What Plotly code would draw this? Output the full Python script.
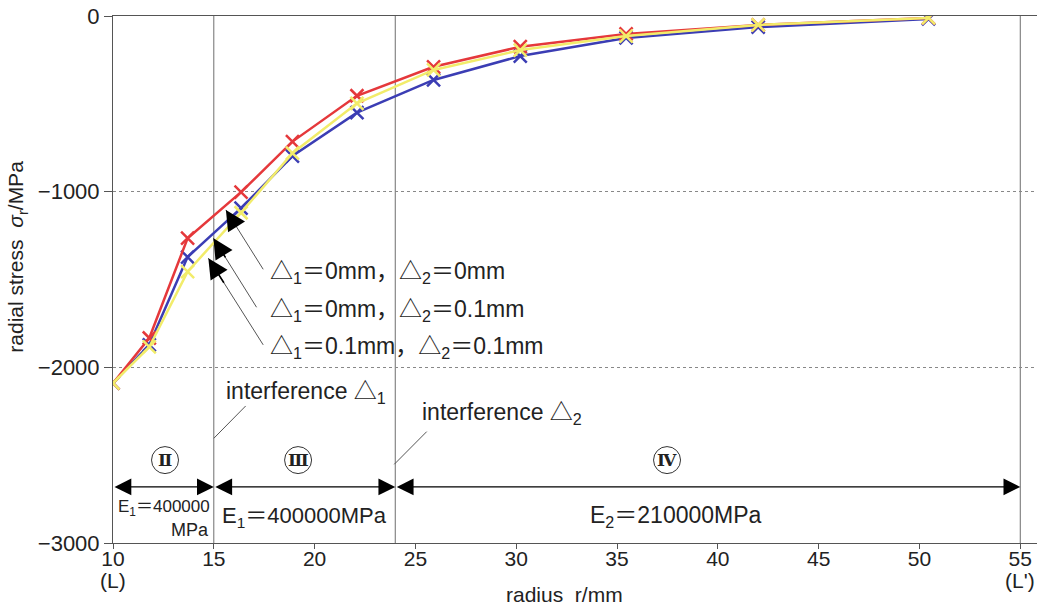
import plotly.graph_objects as go

# radius positions (mm) of the computed points
radius = [10.0, 11.8, 13.7, 16.35, 18.9, 22.1, 25.9, 30.2, 35.45, 42.0, 50.45]

# radial stress (MPa) for the three interference cases
stress_00 = [-2090, -1833, -1265, -1003, -715, -454, -289, -175, -102, -51, -11]     # Δ1=0, Δ2=0
stress_01 = [-2090, -1872, -1372, -1094, -797, -550, -364, -228, -125, -63, -17]     # Δ1=0, Δ2=0.1
stress_11 = [-2090, -1884, -1455, -1120, -781, -497, -307, -194, -114, -51, -11]     # Δ1=0.1, Δ2=0.1

case_labels = [
    "△<sub>1</sub>＝0mm，△<sub>2</sub>＝0mm",
    "△<sub>1</sub>＝0mm，△<sub>2</sub>＝0.1mm",
    "△<sub>1</sub>＝0.1mm，△<sub>2</sub>＝0.1mm",
]

x_ticks = [10, 15, 20, 25, 30, 35, 40, 45, 50, 55]
x_tick_text = ["10", "15", "20", "25", "30", "35", "40", "45", "50", "55"]
end_marks = [(10, "(L)"), (55, "(L')")]
y_ticks = [0, -1000, -2000, -3000]

# layer boundaries (mm) and the zone labels between them
boundaries = [10, 15, 24, 55]
zone_names = ["Ⅱ", "Ⅲ", "Ⅳ"]
zone_centers = [12.58, 19.18, 37.48]

FONT = "Liberation Sans, Arial, Noto Sans CJK JP"
TXT = "#222222"
RED = "#e5383b"
BLUE = "#3b3db4"
YELLOW = "#f2ec6a"

fig = go.Figure()

for ys, col in [(stress_01, BLUE), (stress_00, RED), (stress_11, YELLOW)]:
    fig.add_trace(go.Scatter(
        x=radius, y=ys, mode="lines+markers",
        line=dict(color=col, width=2.5),
        marker=dict(symbol="x-thin", size=13, line=dict(color=col, width=2.5)),
        showlegend=False, hoverinfo="x+y",
    ))

# vertical boundary lines
for b in boundaries[1:]:
    fig.add_shape(type="line", x0=b, x1=b, y0=-3000, y1=0, xref="x", yref="y",
                  line=dict(color="#6e6e6e", width=1), layer="below")

annotations = []

# arrows from the case labels to their curves
label_y = [-1460, -1675, -1885]
tips = [(15.6, -1104, 17.45, -1442), (14.98, -1265, 17.12, -1658), (14.73, -1379, 17.45, -1872)]
for (tx, ty, sx, sy) in tips:
    fig.add_shape(type="line", x0=sx, y0=sy, x1=tx, y1=ty, xref="x", yref="y",
                  line=dict(color="#555555", width=1))
    dx, dy = (sx - tx), (sy - ty)
    annotations.append(dict(x=tx, y=ty, ax=tx + dx * 0.3, ay=ty + dy * 0.3,
                            xref="x", yref="y", axref="x", ayref="y", text="",
                            showarrow=True, arrowhead=2, arrowsize=2.5, arrowwidth=1.6,
                            arrowcolor="black"))
for lbl, ly in zip(case_labels, label_y):
    annotations.append(dict(x=17.7, y=ly, xref="x", yref="y", text=lbl, showarrow=False,
                            xanchor="left", yanchor="middle",
                            font=dict(family=FONT, size=23, color=TXT)))

# interference labels with leader lines
for txt, lx, ly, p0, p1 in [
    ("interference △<sub>1</sub>", 15.5, -2145, (16.58, -2220), (15.0, -2404)),
    ("interference △<sub>2</sub>", 25.25, -2262, (25.56, -2366), (23.95, -2552)),
]:
    annotations.append(dict(x=lx, y=ly, xref="x", yref="y", text=txt, showarrow=False,
                            xanchor="left", yanchor="middle",
                            font=dict(family=FONT, size=23, color=TXT)))
    fig.add_shape(type="line", x0=p0[0], y0=p0[1], x1=p1[0], y1=p1[1], xref="x", yref="y",
                  line=dict(color="#555555", width=1))

# circled zone numerals
for name, cx in zip(zone_names, zone_centers):
    fig.add_shape(type="circle", xref="x", yref="y", xsizemode="pixel", ysizemode="pixel",
                  xanchor=cx, yanchor=-2528, x0=-13.5, x1=13.5, y0=-13.5, y1=13.5,
                  line=dict(color="#333333", width=1))
    annotations.append(dict(x=cx, y=-2528, xref="x", yref="y", text=f"<b>{name}</b>",
                            showarrow=False,
                            font=dict(family="DejaVu Serif, Noto Sans CJK JP", size=17, color=TXT)))

# double-headed extent arrows for each layer
for a, b in zip(boundaries[:-1], boundaries[1:]):
    annotations.append(dict(x=b, y=-2681, ax=a, ay=-2681, xref="x", yref="y",
                            axref="x", ayref="y", text="", showarrow=True,
                            arrowside="end+start", arrowhead=2, arrowsize=2.8,
                            arrowwidth=1.2, arrowcolor="black"))

# elastic modulus labels
annotations += [
    dict(x=10.15, y=-2800, text="E<sub>1</sub>＝400000", xanchor="left", size=17),
    dict(x=14.85, y=-2925, text="MPa", xanchor="right", size=18),
    dict(x=15.3, y=-2851, text="E<sub>1</sub>＝400000MPa", xanchor="left", size=22),
    dict(x=37.9, y=-2851, text="E<sub>2</sub>＝210000MPa", xanchor="center", size=23),
]
for ann in annotations[-4:]:
    sz = ann.pop("size")
    ann.update(xref="x", yref="y", showarrow=False, yanchor="middle",
               font=dict(family=FONT, size=sz, color=TXT))

# "(L)" / "(L')" markers under the end ticks
for xv, mark in end_marks:
    annotations.append(dict(x=xv, y=0, xref="x", yref="paper", yshift=-37, text=mark,
                            showarrow=False, yanchor="middle",
                            font=dict(family=FONT, size=21, color=TXT)))

# axis titles
annotations.append(dict(x=32.4, y=0, xref="x", yref="paper", yshift=-51, text="radius  r/mm",
                        showarrow=False, yanchor="middle",
                        font=dict(family=FONT, size=21, color=TXT)))
annotations.append(dict(x=0, y=-1370, xref="paper", yref="y", xshift=-96,
                        text="radial stress  <i>σ</i><sub>r</sub>/MPa", textangle=-90,
                        showarrow=False, xanchor="center", yanchor="middle",
                        font=dict(family=FONT, size=21, color=TXT)))

fig.update_layout(
    width=1037, height=605,
    margin=dict(l=113, r=0, t=16, b=62),
    paper_bgcolor="white", plot_bgcolor="white",
    font=dict(family=FONT, size=22, color=TXT),
    annotations=annotations,
    xaxis=dict(range=[10, 55.83], tickvals=x_ticks, ticktext=x_tick_text,
               automargin=False, ticklabeloverflow="allow", ticklabelstandoff=-8,
               showgrid=False, zeroline=False, showline=True, linecolor="#555555",
               linewidth=1, mirror=True, ticks="outside", ticklen=5, tickcolor="#555555",
               tickfont=dict(family=FONT, size=21, color=TXT)),
    yaxis=dict(range=[-3000, 0], tickvals=y_ticks, automargin=False,
               showgrid=True, gridcolor="#888888", griddash="dot", gridwidth=1,
               zeroline=False, showline=True, linecolor="#555555", linewidth=1,
               ticks="outside", ticklen=8, tickcolor="#555555",
               tickfont=dict(family=FONT, size=22, color=TXT)),
)

fig.write_html("out.html")
